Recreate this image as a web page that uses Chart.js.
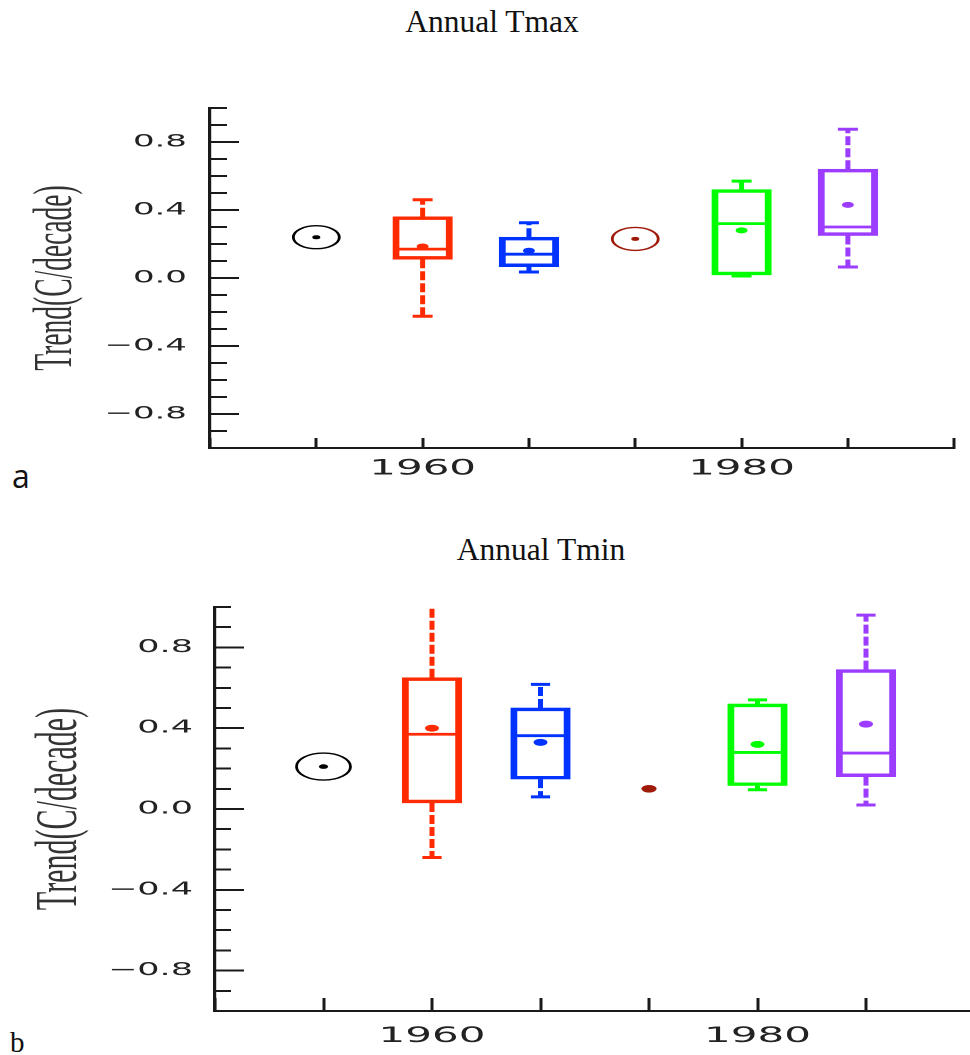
<!DOCTYPE html>
<html>
<head>
<meta charset="utf-8">
<script src="https://cdn.jsdelivr.net/npm/chart.js@4.4.1/dist/chart.umd.min.js"></script>
<style>
html,body{margin:0;padding:0;background:#fff;width:970px;height:1055px;overflow:hidden;position:relative;}
.panel{position:absolute;left:0;transform:scaleX(2);transform-origin:0 0;}
.title{position:absolute;font-family:"Liberation Serif","Times New Roman",serif;color:#111;white-space:nowrap;line-height:1;transform:translateX(-50%);}
.tag{position:absolute;line-height:1;color:#111;}
</style>
</head>
<body>
<div class="title" style="left:492px;top:6px;font-size:31.5px">Annual Tmax</div>
<div class="tag" style="left:12px;top:460px;font-family:'Open Sans',sans-serif;font-size:32px">a</div>
<div class="panel" style="top:60px"><canvas id="cA" width="485" height="440"></canvas></div>

<div class="title" style="left:541px;top:534px;font-size:31.5px">Annual Tmin</div>
<div class="tag" style="left:10px;top:1028px;font-family:'Liberation Serif',serif;font-size:29px">b</div>
<div class="panel" style="top:565px"><canvas id="cB" width="490" height="490"></canvas></div>

<script>
// ---------- data ----------
const positions   = [1, 2, 3, 4, 5, 6];
const groupColors = ['#000000', '#ff2a00', '#0033ff', '#a01a0a', '#00ff00', '#9b3cff'];
const xTickLabels = ['', '', '1960', '', '', '1980', '', ''];
const yTickValues = [-0.8, -0.4, 0, 0.4, 0.8];
const yTickLabels = ['\u22120.8', '\u22120.4', '0.0', '0.4', '0.8'];
const yTitle = 'Trend(C/decade)';

// Annual Tmax
const tmaxMin     = [null, -0.225, 0.035, null, 0.012, 0.065];
const tmaxQ1      = [null, 0.11, 0.067, null, 0.018, 0.25];
const tmaxMedian  = [null, 0.17, 0.14, null, 0.32, 0.30];
const tmaxQ3      = [null, 0.36, 0.24, null, 0.52, 0.64];
const tmaxMax     = [null, 0.46, 0.325, null, 0.57, 0.875];
const tmaxMean    = [0.24, 0.185, 0.16, 0.23, 0.28, 0.43];
const tmaxCircled = [true, false, false, true, false, false];

// Annual Tmin
const tminMin     = [null, -0.24, 0.06, null, 0.095, 0.02];
const tminQ1      = [null, 0.03, 0.148, null, 0.116, 0.16];
const tminMedian  = [null, 0.37, 0.363, null, 0.28, 0.277];
const tminQ3      = [null, 0.65, 0.50, null, 0.52, 0.69];
const tminMax     = [null, 1.05, 0.617, null, 0.54, 0.96];
const tminMean    = [0.21, 0.40, 0.33, 0.10, 0.32, 0.42];
const tminCircled = [true, false, false, false, false, false];

// ---------- builder ----------
function buildChart(canvasId, s, g) {
  const idx = positions.map((p, i) => i);
  const boxIdx = idx.filter(i => s.q1[i] !== null);
  const circIdx = idx.filter(i => s.circled[i]);
  const datasets = [];

  // mean dots
  datasets.push({
    type: 'scatter',
    data: idx.map(i => ({x: positions[i], y: s.mean[i]})),
    pointStyle: 'circle',
    pointRadius: idx.map(i => s.circled[i] ? g.centerDot : (s.q1[i] === null ? g.soloDot : g.meanDot)),
    pointBackgroundColor: groupColors,
    pointBorderColor: groupColors,
    pointBorderWidth: 0
  });
  // rings around single values
  datasets.push({
    type: 'scatter',
    data: circIdx.map(i => ({x: positions[i], y: s.mean[i]})),
    pointStyle: 'circle',
    pointRadius: g.ring,
    pointBackgroundColor: 'rgba(0,0,0,0)',
    pointBorderColor: circIdx.map(i => groupColors[i]),
    pointBorderWidth: g.ringW
  });
  // medians
  datasets.push({
    type: 'scatter',
    data: boxIdx.map(i => ({x: positions[i], y: s.median[i]})),
    pointStyle: 'line',
    pointRadius: g.boxW / 2 - 0.5,
    pointBorderWidth: g.lineW,
    pointBorderColor: boxIdx.map(i => groupColors[i])
  });
  // whisker caps
  datasets.push({
    type: 'scatter',
    data: boxIdx.flatMap(i => [{x: positions[i], y: s.max[i]}, {x: positions[i], y: s.min[i]}]),
    pointStyle: 'line',
    pointRadius: g.cap,
    pointBorderWidth: g.capW,
    pointBorderColor: boxIdx.flatMap(i => [groupColors[i], groupColors[i]]),
    clip: 1
  });
  // boxes
  datasets.push({
    type: 'bar',
    data: boxIdx.map(i => ({x: positions[i], y: [s.q1[i], s.q3[i]]})),
    backgroundColor: 'rgba(0,0,0,0)',
    borderColor: boxIdx.map(i => groupColors[i]),
    borderWidth: g.lineW,
    borderSkipped: false,
    barThickness: g.boxW
  });
  // whiskers
  boxIdx.forEach(i => {
    datasets.push({
      type: 'line',
      data: [
        {x: positions[i], y: s.q3[i]}, {x: positions[i], y: s.max[i]},
        {x: positions[i], y: null},
        {x: positions[i], y: s.q1[i]}, {x: positions[i], y: s.min[i]}
      ],
      borderColor: groupColors[i],
      borderWidth: g.whiskW,
      borderDash: [9, 3],
      pointRadius: 0,
      fill: false,
      spanGaps: false,
      clip: 1
    });
  });

  return new Chart(document.getElementById(canvasId), {
    type: 'scatter',
    data: {datasets},
    options: {
      responsive: false,
      devicePixelRatio: 2,
      animation: false,
      events: [],
      layout: {autoPadding: false, padding: {left: 0, right: g.padR, top: g.padT, bottom: 0}},
      plugins: {legend: {display: false}, tooltip: {enabled: false}, title: {display: false}},
      scales: {
        x: {
          type: 'linear', min: 0, max: 7, offset: false, position: 'bottom',
          grid: {display: true, drawOnChartArea: false, drawTicks: true, tickLength: -g.xTick,
                 tickWidth: 1.5, tickColor: '#1a1a1a', offset: false},
          border: {display: true, width: 2, color: '#1a1a1a'},
          ticks: {stepSize: 1, autoSkip: false, maxRotation: 0, minRotation: 0, padding: 0,
                  color: '#222', font: {family: 'DejaVu Sans', size: g.xFont, lineHeight: g.xLH + 'px'},
                  callback: (v) => (xTickLabels[v] !== undefined ? xTickLabels[v] : '')},
          afterFit: (sc) => { sc.height = g.xH; }
        },
        y: {
          type: 'linear', min: -1, max: 1, position: 'left', weight: 1,
          grid: {drawOnChartArea: false, drawTicks: true, tickLength: -14.5, tickWidth: 2, tickColor: '#1a1a1a'},
          border: {display: true, width: 1.6, color: '#1a1a1a'},
          ticks: {padding: g.yPad, color: '#222', font: {family: 'DejaVu Sans', size: g.yFont},
                  callback: (v, i) => yTickLabels[i]},
          afterBuildTicks: (sc) => { sc.ticks = yTickValues.map(v => ({value: v})); },
          title: {display: true, text: yTitle, color: '#333',
                  font: {family: 'Liberation Serif', size: g.tFont}, padding: {top: g.tPad, bottom: 0}},
          afterFit: (sc) => { sc.width = g.yW; }
        },
        yMinor: {
          type: 'linear', axis: 'y', min: -1, max: 1, position: 'left', weight: 0,
          grid: {drawOnChartArea: false, drawTicks: true, tickLength: -g.minorTick, tickWidth: 2, tickColor: '#1a1a1a'},
          border: {display: false},
          ticks: {display: false, stepSize: 0.1},
          afterFit: (sc) => { sc.width = 0; }
        }
      }
    }
  });
}

buildChart('cA', {
  min: tmaxMin, q1: tmaxQ1, median: tmaxMedian, q3: tmaxQ3, max: tmaxMax, mean: tmaxMean, circled: tmaxCircled
}, {
  padT: 48, padR: 7.9, yW: 105, xH: 52, xTick: 10, xLH: 62, xFont: 21, yFont: 17, yPad: 26,
  tFont: 27.5, tPad: 12, minorTick: 8.5,
  boxW: 29.5, lineW: 2.8, whiskW: 2.5, cap: 5, capW: 3,
  meanDot: 3, soloDot: 3.5, centerDot: 2, ring: 11.5, ringW: 1.4
});

buildChart('cB', {
  min: tminMin, q1: tminQ1, median: tminMedian, q3: tminQ3, max: tminMax, mean: tminMean, circled: tminCircled
}, {
  padT: 42, padR: 2.75, yW: 107.5, xH: 44, xTick: 13, xLH: 77, xFont: 21, yFont: 17.5, yPad: 25.5,
  tFont: 30, tPad: 12, minorTick: 8,
  boxW: 29.5, lineW: 2.8, whiskW: 2.5, cap: 4.8, capW: 3,
  meanDot: 3.5, soloDot: 3.8, centerDot: 2.3, ring: 13.5, ringW: 1.4
});
</script>
</body>
</html>
